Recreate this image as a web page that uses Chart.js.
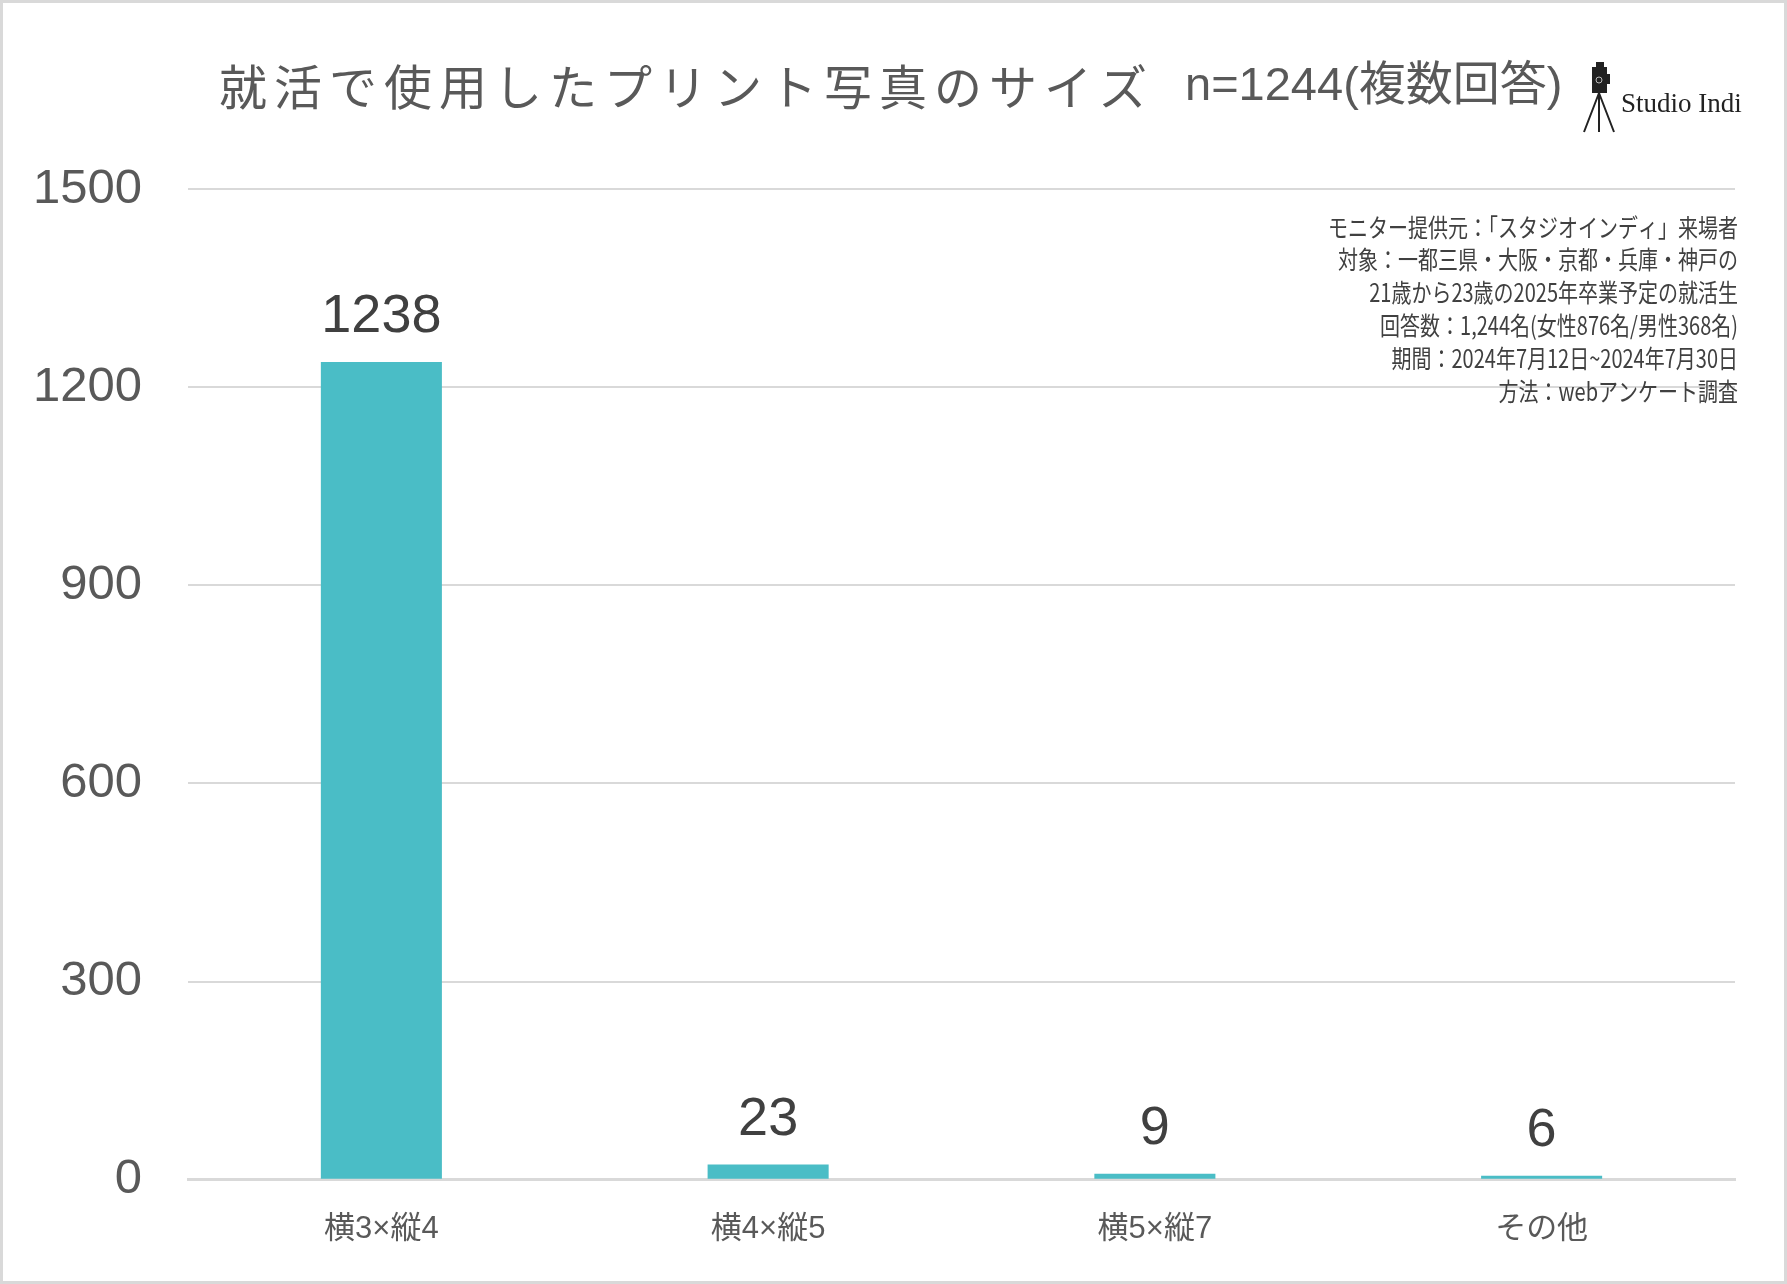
<!DOCTYPE html>
<html lang="ja">
<head>
<meta charset="utf-8">
<title>就活で使用したプリント写真のサイズ</title>
<script src="https://cdn.jsdelivr.net/npm/chart.js@4.4.1/dist/chart.umd.min.js"></script>
<style>
  html, body { margin: 0; padding: 0; background: #fff; }
  canvas { display: block; }
</style>
</head>
<body>
<canvas id="graficoTamanhos" width="1787" height="1284"></canvas>
<script>
const categories = ["横3×縦4", "横4×縦5", "横5×縦7", "その他"];
const answers = [1238, 23, 9, 6];
const yTicks = [0, 300, 600, 900, 1200, 1500];

const titleMain = "就活で使用したプリント写真のサイズ";
const titleSample = "n=1244(複数回答)";
const brandName = "Studio Indi";
const notes = [
  "モニター提供元：「スタジオインディ」来場者",
  "対象：一都三県・大阪・京都・兵庫・神戸の",
  "21歳から23歳の2025年卒業予定の就活生",
  "回答数：1,244名(女性876名/男性368名)",
  "期間：2024年7月12日~2024年7月30日",
  "方法：webアンケート調査"
];

// titulo, logo, notas e valores em cima das barras
const extrasPlugin = {
  id: "extras",
  afterDatasetsDraw(chart) {
    const ctx = chart.ctx;
    const meta = chart.getDatasetMeta(0);
    ctx.save();
    ctx.fillStyle = "#404040";
    ctx.font = '54px "Liberation Sans"';
    ctx.textAlign = "center";
    ctx.textBaseline = "alphabetic";
    meta.data.forEach((bar, i) => {
      ctx.fillText(String(chart.data.datasets[0].data[i]), bar.x, bar.y - 30);
    });
    ctx.restore();
  },
  afterDraw(chart) {
    const ctx = chart.ctx;
    ctx.save();

    ctx.strokeStyle = "#d9d9d9";
    ctx.lineWidth = 3;
    ctx.strokeRect(1.5, 1.5, chart.width - 3, chart.height - 3);

    ctx.fillStyle = "#595959";
    ctx.textBaseline = "middle";
    ctx.textAlign = "left";
    ctx.font = '48px "Noto Sans CJK JP"';
    ctx.letterSpacing = "7px";
    ctx.fillText(titleMain, 219, 87);
    ctx.letterSpacing = "0px";
    ctx.font = '47px "Liberation Sans", "Noto Sans CJK JP"';
    ctx.fillText(titleSample, 1185, 87);

    // camera no tripe
    ctx.fillStyle = "#222";
    ctx.fillRect(1592, 67, 15, 26);
    ctx.fillRect(1596, 62, 8, 6);
    ctx.fillRect(1607, 74, 3, 10);
    ctx.strokeStyle = "#bbb";
    ctx.lineWidth = 1;
    ctx.beginPath();
    ctx.arc(1599, 80, 3, 0, Math.PI * 2);
    ctx.stroke();
    ctx.strokeStyle = "#222";
    ctx.lineWidth = 2;
    ctx.beginPath();
    ctx.moveTo(1599, 93); ctx.lineTo(1584, 132);
    ctx.moveTo(1599, 93); ctx.lineTo(1599, 132);
    ctx.moveTo(1599, 93); ctx.lineTo(1614, 132);
    ctx.stroke();

    ctx.fillStyle = "#222";
    ctx.font = '27px "Liberation Serif"';
    ctx.textBaseline = "alphabetic";
    ctx.fillText(brandName, 1621, 112);

    ctx.fillStyle = "#404040";
    ctx.font = '25px "Noto Sans CJK JP"';
    ctx.textAlign = "right";
    ctx.textBaseline = "middle";
    notes.forEach((line, i) => {
      ctx.save();
      ctx.translate(1738, 227 + i * 32.8);
      ctx.scale(0.8, 1);
      ctx.fillText(line, 0, 0);
      ctx.restore();
    });

    ctx.restore();
  }
};

const ctxGrafico = document.getElementById("graficoTamanhos").getContext("2d");

const grafico = new Chart(ctxGrafico, {
  type: "bar",
  data: {
    labels: categories,
    datasets: [{
      label: "回答数",
      data: answers,
      backgroundColor: "#4abdc6",
      borderWidth: 0,
      barPercentage: 0.313,
      categoryPercentage: 1.0
    }]
  },
  options: {
    responsive: false,
    animation: false,
    devicePixelRatio: 1,
    layout: {
      padding: { top: 189, right: 52, bottom: 5, left: 0 }
    },
    plugins: {
      legend: { display: false },
      title: { display: false },
      tooltip: { enabled: false }
    },
    scales: {
      x: {
        grid: { display: false, drawTicks: false },
        border: { display: true, color: "#d9d9d9", width: 3 },
        ticks: {
          color: "#595959",
          font: { family: '"Liberation Sans", "Noto Sans CJK JP"', size: 31 },
          padding: 31
        }
      },
      y: {
        min: 0,
        max: 1500,
        afterBuildTicks: (scale) => {
          scale.ticks = yTicks.map((v) => ({ value: v }));
        },
        afterFit: (scale) => {
          scale.width = 188;
        },
        grid: { color: "#d9d9d9", lineWidth: 2, drawTicks: false },
        border: { display: false },
        ticks: {
          color: "#595959",
          font: { family: '"Liberation Sans"', size: 49 },
          padding: 46,
          callback: (value) => String(value)
        }
      }
    }
  },
  plugins: [extrasPlugin]
});
</script>
</body>
</html>
